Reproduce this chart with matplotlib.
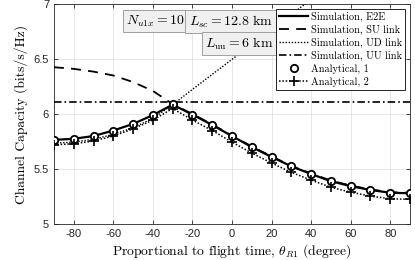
import numpy as np
import matplotlib
matplotlib.use("Agg")
import matplotlib.pyplot as plt
from matplotlib.ticker import FormatStrFormatter

plt.rcParams['mathtext.fontset'] = 'cm'
plt.rcParams['axes.unicode_minus'] = False

# flight angle (degree)
theta = [-90, -80, -70, -60, -50, -40, -30, -20, -10, 0, 10, 20, 30, 40, 50, 60, 70, 80, 90]

# simulated capacities (bits/s/Hz)
sim_e2e = [5.765, 5.775, 5.80, 5.85, 5.91, 5.99, 6.085, 5.995, 5.90, 5.80, 5.70, 5.61,
           5.525, 5.455, 5.39, 5.345, 5.31, 5.285, 5.28]
sim_su = [6.425, 6.41, 6.385, 6.35, 6.29, 6.21, 6.09, 6.0, 5.905, 5.805, 5.705, 5.615,
          5.53, 5.46, 5.395, 5.35, 5.315, 5.29, 5.285]
sim_ud = [5.735, 5.745, 5.77, 5.815, 5.875, 5.96, 6.085, 6.223, 6.36, 6.496, 6.632,
          6.768, 6.904, 7.04]
sim_uu = [6.108] * len(theta)

# analytical capacities
ana_1 = [5.767, 5.776, 5.80, 5.85, 5.91, 5.99, 6.087, 5.995, 5.90, 5.80, 5.70, 5.61,
         5.525, 5.457, 5.39, 5.347, 5.31, 5.286, 5.28]
ana_2 = [5.72, 5.73, 5.755, 5.80, 5.865, 5.945, 6.05, 5.945, 5.85, 5.745, 5.645, 5.555,
         5.47, 5.40, 5.335, 5.29, 5.255, 5.23, 5.225]

cm_font = 'cmr10'
tick_font = 'Liberation Sans'

fig = plt.figure(figsize=(4.15, 2.6), dpi=100)
ax = fig.add_axes([0.130, 0.138, 0.858, 0.847])

ax.plot(theta, sim_e2e, color='k', lw=1.6, label='Simulation, E2E', zorder=3)
ax.plot(theta, sim_su, color='k', lw=1.3, dashes=(5.5, 4), label='Simulation, SU link', zorder=3)
ax.plot(theta[:len(sim_ud)], sim_ud, color='k', lw=1.0, dashes=(1, 1.2),
        label='Simulation, UD link', zorder=3)
ax.plot(theta, sim_uu, color='k', lw=1.2, dashes=(4.5, 1.8, 1, 1.8),
        label='Simulation, UU link', zorder=3)
ax.plot(theta, ana_1, ls='none', marker='o', ms=5.3, mfc='white', mec='k', mew=1.3,
        label='Analytical, 1', zorder=4)
ax.plot(theta, ana_2, color='k', lw=1.1, dashes=(1, 1.2), marker='+', ms=6.5, mew=1.2,
        label='Analytical, 2', zorder=4)

ax.set_xlim(-90, 90)
ax.set_ylim(5, 7)
ax.set_xticks(np.arange(-80, 81, 20))
ax.set_yticks([5, 5.5, 6, 6.5, 7])
ax.yaxis.set_major_formatter(FormatStrFormatter('%g'))
ax.grid(True, color='#e3e3e3', lw=0.6)
ax.set_axisbelow(True)
ax.tick_params(direction='in', length=3, width=0.6, colors='#262626',
               top=True, right=True, labelsize=8)
for lbl in ax.get_xticklabels() + ax.get_yticklabels():
    lbl.set_fontfamily(tick_font)
for sp in ax.spines.values():
    sp.set_color('#262626')
    sp.set_linewidth(0.6)

ax.set_xlabel(r'Proportional to flight time, $\theta_{R1}$ (degree)',
              fontfamily=cm_font, fontsize=9.8, labelpad=2)
ax.set_ylabel('Channel Capacity (bits/s/Hz)', fontfamily=cm_font, fontsize=9.8, labelpad=4)

box = dict(boxstyle='square,pad=0.22', fc='#f0f0f0', ec='#a0a0a0', lw=0.7)
ax.text(0.203, 0.958, r'$N_{u1x} = 10$', transform=ax.transAxes, fontsize=10,
        va='top', ha='left', bbox=box, zorder=6)
ax.text(0.378, 0.958, r'$L_{sc} = 12.8\ \mathrm{km}$', transform=ax.transAxes, fontsize=10,
        va='top', ha='left', bbox=box, zorder=6)
ax.text(0.424, 0.858, r'$L_{\mathrm{uu}} = 6\ \mathrm{km}$', transform=ax.transAxes,
        fontsize=10, va='top', ha='left', bbox=box, zorder=6)

leg = ax.legend(loc='upper right', prop={'family': cm_font, 'size': 7.4}, frameon=True,
                fancybox=False, edgecolor='k', framealpha=1, borderaxespad=0.45,
                handlelength=2.8, handletextpad=0.3, labelspacing=0.28, borderpad=0.3)
leg.get_frame().set_linewidth(0.6)
leg.set_zorder(7)

fig.savefig('out.png', dpi=100)
